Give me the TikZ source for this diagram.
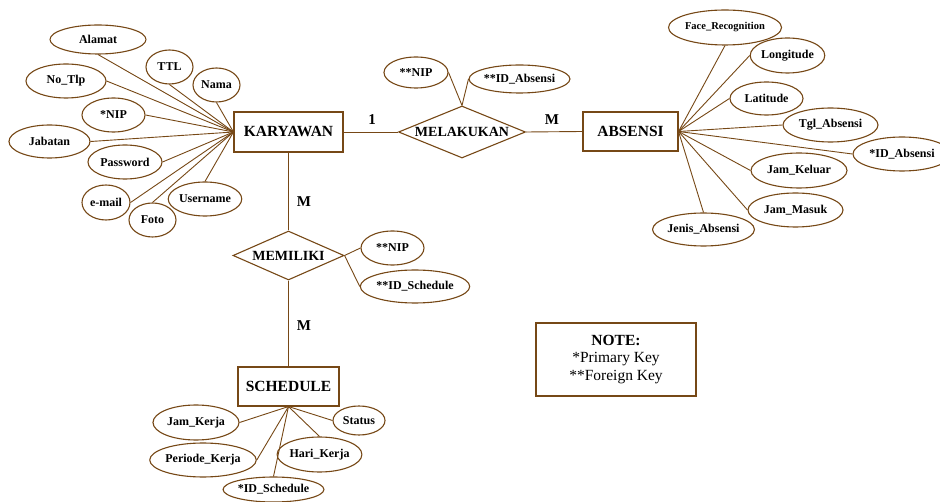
\documentclass[tikz,border=0pt]{standalone}
\usepackage{fontspec}
\setmainfont{Liberation Serif}
\usetikzlibrary{shapes.geometric}
\definecolor{brn}{RGB}{118,72,22}
\tikzset{
  attr/.style={ellipse, draw=brn, line width=1.1pt, inner sep=0pt, fill=white,
    font=\fontsize{12}{14}\selectfont\bfseries},
  ent/.style={rectangle, draw=brn, line width=1.1pt, inner sep=0pt, fill=white,
    font=\fontsize{15.5}{17}\selectfont\bfseries},
  rel/.style={diamond, draw=brn, line width=1.1pt, inner sep=0pt, fill=white},
  reltext/.style={font=\fontsize{14}{16}\selectfont\bfseries},
  card/.style={font=\fontsize{15}{17}\selectfont\bfseries},
  conn/.style={draw=brn, line width=0.9pt},
}
\begin{document}
\begin{tikzpicture}[x=1pt,y=-1pt]
\useasboundingbox (0,0) rectangle (940,502);
\clip (0,0) rectangle (940,502);

% entities
\node[ent, minimum width=109pt, minimum height=40pt] (kar) at (288.5,132) {KARYAWAN};
\node[ent, minimum width=95pt, minimum height=39pt] (abs) at (630.5,131.5) {ABSENSI};
\node[ent, minimum width=101pt, minimum height=39pt] (sch) at (288.5,386.5) {SCHEDULE};

% relationships
\node[rel, minimum width=127pt, minimum height=52pt] (mel) at (462,132) {};
\node[reltext] (meltxt) at (mel) {MELAKUKAN};
\node[rel, minimum width=111pt, minimum height=49pt] (mem) at (288.5,255.5) {};
\node[reltext] (memtxt) at (mem) {MEMILIKI};

% relationship connectors
\draw[conn] (kar.east) -- (mel.west);
\draw[conn] (mel.east) -- (abs.west);
\draw[conn] (kar.south) -- (mem.north);
\draw[conn] (mem.south) -- (sch.north);

% cardinalities
\node[card] (c1) at (372,120) {1};
\node[card] (c2) at (552,120) {M};
\node[card] (c3) at (304,202) {M};
\node[card] (c4) at (304,326) {M};

% convergence points
\coordinate (kw) at (kar.west);
\coordinate (ae) at (abs.east);
\coordinate (ss) at (sch.south);
\coordinate (mn) at (mel.north);
\coordinate (me) at (mem.east);

% KARYAWAN attributes
\node[attr, minimum width=96pt, minimum height=29pt] (alamat) at (98,39.5) {Alamat};
\node[attr, minimum width=47pt, minimum height=34pt] (ttl) at (169.5,67) {TTL};
\node[attr, minimum width=47pt, minimum height=34pt] (nama) at (216.5,85) {Nama};
\node[attr, minimum width=80pt, minimum height=34pt] (notlp) at (66,81) {No\_Tlp};
\node[attr, minimum width=63pt, minimum height=34pt] (nip) at (113.5,115) {*NIP};
\node[attr, minimum width=81pt, minimum height=33pt] (jabatan) at (49.5,141.5) {Jabatan};
\node[attr, minimum width=74pt, minimum height=34pt] (password) at (125,162) {Password};
\node[attr, minimum width=48pt, minimum height=35pt] (email) at (106,202.5) {e-mail};
\node[attr, minimum width=47pt, minimum height=34pt] (foto) at (152.5,220) {Foto};
\node[attr, minimum width=70pt, minimum height=34pt] (username) at (205,199) {Username};
\foreach \a/\p in {alamat/south,ttl/south,nama/south,notlp/east,nip/east,jabatan/east,password/east,email/east,foto/north,username/north}
  \draw[conn] (\a.\p) -- (kw);

% MELAKUKAN attributes
\node[attr, minimum width=64pt, minimum height=31pt] (nip2) at (416,72.5) {**NIP};
\node[attr, minimum width=95pt, minimum height=28pt] (idabs2) at (519.5,79) {**ID\_Absensi};
\draw[conn] (nip2.east) -- (mn);
\draw[conn] (idabs2.west) -- (mn);

% MEMILIKI attributes
\node[attr, minimum width=63pt, minimum height=34pt] (nip3) at (392.5,248) {**NIP};
\node[attr, minimum width=108pt, minimum height=33pt] (idsch3) at (415,286.5) {**ID\_Schedule};
\draw[conn] (nip3.west) -- (me);
\draw[conn] (idsch3.west) -- (me);

% ABSENSI attributes
\node[attr, minimum width=108pt, minimum height=35pt, font=\fontsize{10.5}{12}\selectfont\bfseries] (face) at (725,27.5) {Face\_Recognition};
\node[attr, minimum width=73pt, minimum height=35pt] (longi) at (787.5,55.5) {Longitude};
\node[attr, minimum width=73pt, minimum height=33pt] (lati) at (766.5,98.5) {Latitude};
\node[attr, minimum width=95pt, minimum height=34pt] (tgl) at (830.5,125) {Tgl\_Absensi};
\node[attr, minimum width=98pt, minimum height=34pt] (idabs) at (902,154) {*ID\_Absensi};
\node[attr, minimum width=96pt, minimum height=35pt] (jamk) at (799,170.5) {Jam\_Keluar};
\node[attr, minimum width=95pt, minimum height=34pt] (jamm) at (795.5,210) {Jam\_Masuk};
\node[attr, minimum width=95pt, minimum height=33pt] (jenis) at (703.5,229.5) {Jenis\_Absensi};
\foreach \a/\p in {face/south,longi/west,lati/west,tgl/west,idabs/west,jamk/west,jamm/west,jenis/north}
  \draw[conn] (\a.\p) -- (ae);

% SCHEDULE attributes
\node[attr, minimum width=86pt, minimum height=35pt] (jamkerja) at (196,422.5) {Jam\_Kerja};
\node[attr, minimum width=52pt, minimum height=29pt] (status) at (359,420.5) {Status};
\node[attr, minimum width=98pt, minimum height=34pt] (periode) at (203,460) {Periode\_Kerja};
\node[attr, minimum width=81pt, minimum height=35pt] (hari) at (319.5,454.5) {Hari\_Kerja};
\node[attr, minimum width=93pt, minimum height=25pt] (idsch) at (273.5,489.5) {*ID\_Schedule};
\foreach \a/\p in {jamkerja/east,status/west,periode/east,hari/north,idsch/north}
  \draw[conn] (\a.\p) -- (ss);

% note
\node[rectangle, draw=brn, line width=1.1pt, minimum width=160pt, minimum height=73pt,
  inner sep=0pt, align=center, font=\fontsize{15.5}{17.5}\selectfont] (note) at (616,359.5)
  {\textbf{NOTE:}\\*Primary Key\\**Foreign Key};
\end{tikzpicture}
\end{document}
